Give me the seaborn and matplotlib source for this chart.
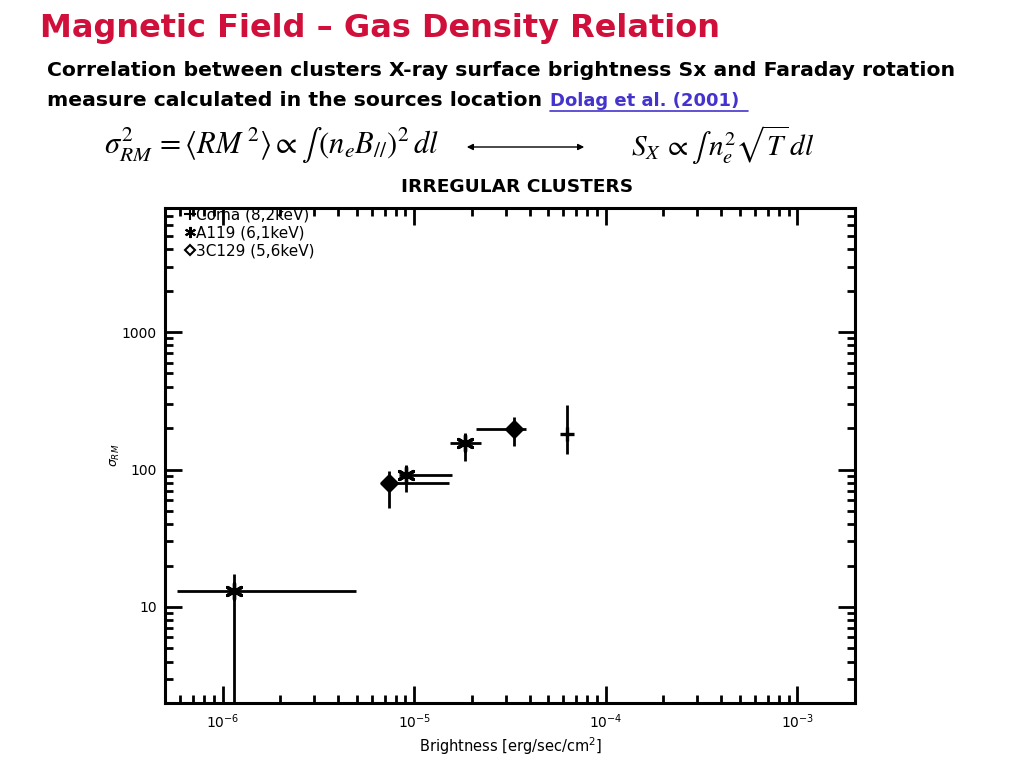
import numpy as np
import pandas as pd
import matplotlib
matplotlib.use("Agg")
import matplotlib.pyplot as plt
from matplotlib.lines import Line2D
from matplotlib.patches import FancyArrowPatch
from matplotlib.ticker import LogLocator, FixedLocator, NullFormatter
import seaborn as sns

# data
cluster = ["A119", "3C129", "A119", "A119", "3C129", "Coma"]
brightness = [1.14e-6, 7.35e-6, 9.1e-6, 1.84e-5, 3.31e-5, 6.3e-5]
sigma_rm = [13.1, 80.0, 92.0, 155.0, 198.0, 181.0]
x_low = [5.75e-7, 6.84e-6, 8.28e-6, 1.53e-5, 2.11e-5, 6.3e-5]
x_high = [4.94e-6, 1.51e-5, 1.58e-5, 2.24e-5, 3.85e-5, 6.3e-5]
y_low = [1.0, 52.5, 68.5, 115.0, 148.0, 130.0]
y_high = [17.4, 97.5, 108.0, 184.0, 242.0, 294.0]

legend_names = ["Coma (8,2keV)", "A119 (6,1keV)", "3C129 (5,6keV)"]
x_ticks = [1e-6, 1e-5, 1e-4, 1e-3]
x_tick_labels = ["10$^{-6}$", "10$^{-5}$", "10$^{-4}$", "10$^{-3}$"]
y_ticks = [10, 100, 1000]
y_tick_labels = ["10", "100", "1000"]

df = pd.DataFrame({
    "cluster": cluster, "brightness": brightness, "sigma": sigma_rm,
    "xlo": x_low, "xhi": x_high, "ylo": y_low, "yhi": y_high,
})

sns.set_style("ticks", {"axes.edgecolor": "black", "text.color": "black",
                        "xtick.color": "black", "ytick.color": "black",
                        "axes.labelcolor": "black"})
plt.rcParams["font.family"] = ["DejaVu Sans"]
plt.rcParams["mathtext.fontset"] = "dejavusans"

fig = plt.figure(figsize=(10.23, 7.67), dpi=100)
fig.patch.set_facecolor("white")

# header texts
fig.text(40 / 1023, 1 - 28 / 767, "Magnetic Field \u2013 Gas Density Relation",
         color="#D0103A", fontsize=23, fontweight="bold", va="center", ha="left")
fig.text(47 / 1023, 1 - 70 / 767,
         "Correlation between clusters X-ray surface brightness Sx and Faraday rotation",
         color="black", fontsize=14.7, fontweight="bold", va="center", ha="left")
fig.text(47 / 1023, 1 - 100 / 767, "measure calculated in the sources location",
         color="black", fontsize=14.7, fontweight="bold", va="center", ha="left")
fig.text(550 / 1023, 1 - 101 / 767, "Dolag et al. (2001)",
         color="#4433CC", fontsize=13, fontweight="bold", va="center", ha="left")
fig.add_artist(Line2D([550 / 1023, 748 / 1023], [1 - 111 / 767, 1 - 111 / 767],
                      color="#4433CC", lw=1.2))

# formulas
plt.rcParams["mathtext.fontset"] = "stix"
fig.text(104 / 1023, 1 - 145 / 767,
         r"$\sigma^{2}_{RM}\, =\langle RM^{\,2}\rangle \propto \int\,(n_e B_{//})^2\, dl$",
         fontsize=22, va="center", ha="left", family="serif")
fig.text(631 / 1023, 1 - 145 / 767, r"$S_X \,\propto \int\, n_e^2\sqrt{T}\, dl$",
         fontsize=21, va="center", ha="left", family="serif")
fig.add_artist(FancyArrowPatch(
    (464 / 1023, 1 - 147 / 767), (587 / 1023, 1 - 147 / 767),
    transform=fig.transFigure, arrowstyle="<|-|>", mutation_scale=9,
    color="black", lw=1.0))
plt.rcParams["mathtext.fontset"] = "dejavusans"

fig.text(517 / 1023, 1 - 187 / 767, "IRREGULAR CLUSTERS",
         fontsize=13.3, fontweight="bold", va="center", ha="center", color="black")

ax = fig.add_axes([165 / 1023, 1 - 703 / 767, 690 / 1023, 495 / 767])
ax.set_xscale("log")
ax.set_yscale("log")
ax.set_xlim(5.0e-7, 2.0e-3)
ax.set_ylim(2.0, 8000)

ax.errorbar(df["brightness"], df["sigma"],
            xerr=[df["brightness"] - df["xlo"], df["xhi"] - df["brightness"]],
            yerr=[df["sigma"] - df["ylo"], df["yhi"] - df["sigma"]],
            fmt="none", ecolor="black", elinewidth=2, capsize=0, zorder=2)

markers = {"Coma": "+", "A119": (6, 2, 0), "3C129": "D"}
sizes = {"Coma": 90, "A119": 130, "3C129": 60}
for name, grp in df.groupby("cluster"):
    sns.scatterplot(data=grp, x="brightness", y="sigma", marker=markers[name],
                    s=sizes[name], color="black", edgecolor="black",
                    linewidth=2.4, ax=ax, zorder=3, legend=False)

for side in ["top", "right", "bottom", "left"]:
    ax.spines[side].set_visible(True)
    ax.spines[side].set_linewidth(2.2)
    ax.spines[side].set_color("black")

ax.xaxis.set_major_locator(FixedLocator(x_ticks))
ax.set_xticklabels(x_tick_labels)
ax.yaxis.set_major_locator(FixedLocator(y_ticks))
ax.set_yticklabels(y_tick_labels)
ax.xaxis.set_minor_locator(LogLocator(base=10, subs=np.arange(2, 10)))
ax.yaxis.set_minor_locator(LogLocator(base=10, subs=np.arange(2, 10)))
ax.xaxis.set_minor_formatter(NullFormatter())
ax.yaxis.set_minor_formatter(NullFormatter())
ax.tick_params(which="both", direction="in", top=True, right=True,
               width=2, labelsize=10, colors="black")
ax.tick_params(which="major", length=12)
ax.tick_params(which="minor", length=6)
ax.tick_params(axis="x", which="major", pad=7)
ax.tick_params(axis="y", which="major", pad=6)

ax.set_xlabel("Brightness [erg/sec/cm$^2$]", fontsize=10.5, labelpad=3, color="black")
ax.set_ylabel(r"$\sigma_{RM}$", fontsize=9, labelpad=0, color="black")

handles = [
    Line2D([], [], marker="+", color="black", ls="none", markersize=8, mew=1.5),
    Line2D([], [], marker=(6, 2, 0), color="black", ls="none", markersize=8, mew=1.5),
    Line2D([], [], marker="D", color="black", mfc="none", ls="none", markersize=5, mew=1.5),
]
leg = ax.legend(handles, legend_names, loc="upper left", frameon=False, fontsize=11,
                handlelength=0.6, handletextpad=0.15, labelspacing=0.2,
                borderaxespad=0.0, borderpad=0.0,
                bbox_to_anchor=(20 / 690, 1 + 1 / 495))
for t in leg.get_texts():
    t.set_color("black")

fig.savefig("out.png", dpi=100, facecolor="white")
